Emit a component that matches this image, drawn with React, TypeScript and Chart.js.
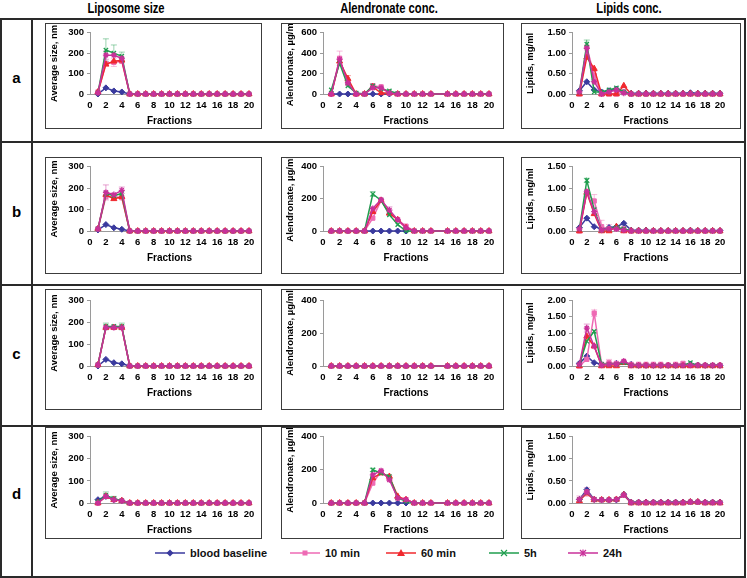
import React, { useEffect, useRef } from "react";
import { Chart, registerables } from "chart.js";

Chart.register(...registerables);

// ---------------- data ----------------
const fractions = [1, 2, 3, 4, 5, 6, 7, 8, 9, 10, 11, 12, 13, 14, 15, 16, 17, 18, 19, 20];
const seriesNames = ["blood baseline", "10 min", "60 min", "5h", "24h"];
const seriesColors = ["#3A3A9E", "#EE6AB4", "#F0282E", "#1F9E4E", "#C9309A"];
const seriesMarkers = ["rectRot", "rect", "triangle", "crossRot", "star"];
const rowLabels = ["a", "b", "c", "d"];
const columnTitles = ["Liposome size", "Alendronate conc.", "Lipids conc."];
const yTitles = ["Average size, nm", "Alendronate, µg/ml", "Lipids, mg/ml"];
const xTitle = "Fractions";
const xRange = [0, 20, 2];
const sizeRange = [0, 300, 100];
const alenRangeA = [0, 600, 200];
const alenRange = [0, 400, 200];
const lipRange = [0, 1.5, 0.5];
const lipRangeC = [0, 2.0, 0.5];

// series order: blood baseline, 10 min, 60 min, 5h, 24h   (null = no point)
const sizeA = [
  [0, 30, 15, 10, 0, 0, 0, 0, 0, 0, 0, 0, 0, 0, 0, 0, 0, 0, 0, 0],
  [10, 150, 155, 160, 0, 0, 0, 0, 0, 0, 0, 0, 0, 0, 0, 0, 0, 0, 0, 0],
  [10, 145, 160, 165, 0, 0, 0, 0, 0, 0, 0, 0, 0, 0, 0, 0, 0, 0, 0, 0],
  [5, 215, 200, 185, 0, 0, 0, 0, 0, 0, 0, 0, 0, 0, 0, 0, 0, 0, 0, 0],
  [5, 190, 190, 175, 0, 0, 0, 0, 0, 0, 0, 0, 0, 0, 0, 0, 0, 0, 0, 0],
];
const alenA = [
  [0, 0, 0, 0, 0, 0, 0, 0, null, null, null, null, null, null, null, null, null, null, null, null],
  [0, 350, 100, 0, 0, 80, 70, 10, 0, 0, 0, 0, 0, null, 0, 0, 0, 0, 0, 0],
  [0, 320, 150, 0, 0, 70, 10, 10, 0, 0, 0, 0, 0, null, 0, 0, 0, 0, 0, 0],
  [40, 300, 80, 10, 0, 80, 50, 30, 5, 0, 0, 0, 0, null, 0, 0, 0, 0, 0, 0],
  [0, 340, 110, 0, 0, 60, 60, 10, 0, 0, 0, 0, 0, null, 0, 0, 0, 0, 0, 0],
];
const lipA = [
  [0.08, 0.30, 0.10, 0.05, 0.08, 0.12, 0.05, 0.02, 0.02, 0.02, 0.02, 0.02, 0.02, 0.02, 0.02, 0.03, 0.02, 0.02, 0.02, 0.02],
  [0, 1.15, 0.45, 0, 0, 0, 0.05, 0, 0, 0, 0, 0, 0, 0, 0, 0, 0, 0, 0, 0],
  [0, 0.90, 0.62, 0, 0, 0, 0.20, 0, 0, 0, 0, 0, 0, 0, 0, 0, 0, 0, 0, 0],
  [0.05, 1.22, 0.05, 0.05, 0.10, 0.15, 0.05, 0, 0, 0, 0, 0, 0, 0, 0, 0, 0, 0, 0, 0],
  [0.05, 1.12, 0.30, 0, 0.05, 0.10, 0.02, 0, 0, 0, 0, 0, 0, 0, 0, 0, 0, 0, 0, 0],
];
const sizeB = [
  [5, 30, 15, 8, 0, 0, 0, 0, 0, 0, 0, 0, 0, 0, 0, 0, 0, 0, 0, 0],
  [10, 160, 160, 155, 0, 0, 0, 0, 0, 0, 0, 0, 0, 0, 0, 0, 0, 0, 0, 0],
  [10, 170, 150, 160, 0, 0, 0, 0, 0, 0, 0, 0, 0, 0, 0, 0, 0, 0, 0, 0],
  [10, 175, 165, 175, 0, 0, 0, 0, 0, 0, 0, 0, 0, 0, 0, 0, 0, 0, 0, 0],
  [10, 180, 170, 190, 0, 0, 0, 0, 0, 0, 0, 0, 0, 0, 0, 0, 0, 0, 0, 0],
];
const alenB = [
  [0, 0, 0, 0, 0, 0, 0, 0, 0, 0, null, null, null, null, null, null, null, null, null, null],
  [0, 0, 0, 0, 0, 80, 190, 110, 70, 30, 0, 0, 0, null, 0, 0, 0, 0, 0, 0],
  [0, 0, 0, 0, 0, 120, 190, 110, 70, 20, 0, 0, 0, null, 0, 0, 0, 0, 0, 0],
  [0, 0, 0, 0, 0, 230, 190, 100, 40, 0, 0, 0, 0, null, 0, 0, 0, 0, 0, 0],
  [0, 0, 0, 0, 0, 140, 195, 130, 70, 20, 0, 0, 0, null, 0, 0, 0, 0, 0, 0],
];
const lipB = [
  [0.08, 0.30, 0.10, 0.05, 0.08, 0.10, 0.18, 0.02, 0.02, 0.02, 0.01, 0.01, 0.01, 0.01, 0.01, 0.02, 0.01, 0.01, 0.01, 0.01],
  [0, 0.90, 0.70, 0.10, 0.05, 0.05, 0.05, 0, 0, 0, 0, 0, 0, 0, 0, 0, 0, 0, 0, 0],
  [0, 0.90, 0.40, 0, 0, 0.10, 0, 0, 0, 0, 0, 0, 0, 0, 0, 0, 0, 0, 0, 0],
  [0.05, 1.18, 0.50, 0.02, 0.05, 0.08, 0.05, 0, 0, 0, 0, 0, 0, 0, 0, 0, 0, 0, 0, 0],
  [0.05, 0.92, 0.45, 0.02, 0.05, 0.05, 0.02, 0, 0, 0, 0, 0, 0, 0, 0, 0, 0, 0, 0, 0],
];
const sizeC = [
  [0, 30, 15, 10, 0, 0, 0, 0, 0, 0, 0, 0, 0, 0, 0, 0, 0, 0, 0, 0],
  [5, 175, 175, 175, 0, 0, 0, 0, 0, 0, 0, 0, 0, 0, 0, 0, 0, 0, 0, 0],
  [5, 175, 175, 175, 0, 0, 0, 0, 0, 0, 0, 0, 0, 0, 0, 0, 0, 0, 0, 0],
  [5, 180, 180, 180, 0, 0, 0, 0, 0, 0, 0, 0, 0, 0, 0, 0, 0, 0, 0, 0],
  [5, 175, 175, 175, 0, 0, 0, 0, 0, 0, 0, 0, 0, 0, 0, 0, 0, 0, 0, 0],
];
const alenC = [
  [0, 0, 0, 0, 0, 0, 0, 0, 0, 0, 0, 0, 0, null, 0, 0, 0, 0, 0, 0],
  [0, 0, 0, 0, 0, 0, 0, 0, 0, 0, 0, 0, 0, null, 0, 0, 0, 0, 0, 0],
  [0, 0, 0, 0, 0, 0, 0, 0, 0, 0, 0, 0, 0, null, 0, 0, 0, 0, 0, 0],
  [0, 0, 0, 0, 0, 0, 0, 0, 0, 0, 0, 0, 0, null, 0, 0, 0, 0, 0, 0],
  [0, 0, 0, 0, 0, 0, 0, 0, 0, 0, 0, 0, 0, null, 0, 0, 0, 0, 0, 0],
];
const lipC = [
  [0.08, 0.30, 0.10, 0.05, 0.05, 0.08, 0.12, 0.05, 0.02, 0.02, 0.02, 0.02, 0.02, 0.02, 0.03, 0.05, 0.03, 0.02, 0.02, 0.02],
  [0, 0.20, 1.60, 0.05, 0.10, 0.08, 0.12, 0.05, 0.05, 0.05, 0.05, 0.05, 0.03, 0.05, 0.08, 0.02, 0.02, 0.02, 0.02, 0.02],
  [0, 0.90, 0.60, 0, 0, 0, 0.10, 0, 0, 0, 0, 0, 0, 0, 0, 0, 0, 0, 0, 0],
  [0.05, 0.75, 1.05, 0.05, 0.05, 0.05, 0.10, 0.02, 0.02, 0.02, 0.02, 0.02, 0.02, 0.02, 0.02, 0.10, 0.02, 0.02, 0.02, 0.02],
  [0.05, 1.15, 0.60, 0.02, 0.05, 0.05, 0.15, 0.02, 0.02, 0.02, 0.02, 0.02, 0.02, 0.02, 0.02, 0.02, 0.02, 0.02, 0.02, 0.02],
];
const sizeD = [
  [15, 30, 15, 10, 0, 0, 0, 0, 0, 0, 0, 0, 0, 0, 0, 0, 0, 0, 0, 0],
  [0, 30, 15, 10, 0, 0, 0, 0, 0, 0, 0, 0, 0, 0, 0, 0, 0, 0, 0, 0],
  [0, 30, 15, 10, 0, 0, 0, 0, 0, 0, 0, 0, 0, 0, 0, 0, 0, 0, 0, 0],
  [5, 35, 20, 10, 0, 0, 0, 0, 0, 0, 0, 0, 0, 0, 0, 0, 0, 0, 0, 0],
  [0, 30, 15, 10, 0, 0, 0, 0, 0, 0, 0, 0, 0, 0, 0, 0, 0, 0, 0, 0],
];
const alenD = [
  [0, 0, 0, 0, 0, 0, 0, 0, 0, 0, null, null, null, null, null, null, null, null, null, null],
  [0, 0, 0, 0, 0, 120, 190, 150, 30, 20, 0, 0, 0, null, 0, 0, 0, 0, 0, 0],
  [0, 0, 0, 0, 0, 150, 180, 160, 40, 20, 0, 0, 0, null, 0, 0, 0, 0, 0, 0],
  [0, 0, 0, 0, 0, 200, 180, 160, 30, 10, 0, 0, 0, null, 0, 0, 0, 0, 0, 0],
  [0, 0, 0, 0, 0, 170, 195, 140, 30, 20, 0, 0, 0, null, 0, 0, 0, 0, 0, 0],
];
const lipD = [
  [0.08, 0.30, 0.08, 0.07, 0.07, 0.07, 0.20, 0.02, 0.02, 0.02, 0.02, 0.02, 0.02, 0.02, 0.02, 0.03, 0.03, 0.02, 0.02, 0.02],
  [0.08, 0.25, 0.08, 0.07, 0.07, 0.08, 0.18, 0.01, 0.01, 0.01, 0.01, 0.01, 0.01, 0.01, 0.01, 0.02, 0.02, 0.01, 0.01, 0.01],
  [0.05, 0.22, 0.07, 0.07, 0.07, 0.08, 0.18, 0, 0, 0, 0, 0, 0, 0, 0, 0.02, 0.02, 0, 0, 0],
  [0.08, 0.25, 0.08, 0.07, 0.07, 0.08, 0.18, 0.01, 0.01, 0.01, 0.01, 0.01, 0.01, 0.01, 0.01, 0.02, 0.02, 0.01, 0.01, 0.01],
  [0.08, 0.25, 0.08, 0.07, 0.07, 0.08, 0.18, 0.01, 0.01, 0.01, 0.01, 0.01, 0.01, 0.01, 0.01, 0.02, 0.02, 0.01, 0.01, 0.01],
];

// error bars: [series index, fraction, +/- error]
const sizeAErr = [[3, 2, 55], [3, 3, 40], [3, 4, 20], [4, 2, 20], [1, 3, 20]];
const alenAErr = [[1, 2, 70], [2, 3, 30], [1, 6, 20]];
const lipAErr = [[3, 2, 0.1], [1, 1, 0.1], [1, 3, 0.1], [1, 5, 0.05]];
const sizeBErr = [[4, 2, 35], [4, 4, 15], [1, 3, 15]];
const alenBErr = [[3, 6, 15], [4, 8, 20]];
const lipBErr = [[1, 3, 0.15], [1, 4, 0.15], [1, 5, 0.1], [3, 2, 0.05]];
const sizeCErr = [[3, 2, 15], [3, 4, 15]];
const alenCErr: number[][] = [];
const lipCErr = [[4, 2, 0.12], [1, 5, 0.1], [1, 3, 0.1]];
const sizeDErr = [[3, 2, 15], [3, 3, 10]];
const alenDErr = [[3, 6, 10], [1, 8, 15]];
const lipDErr = [[1, 2, 0.1], [1, 1, 0.08]];

// ---------------- layout (pixels) ----------------
const FONT = "'Liberation Sans', Arial, Helvetica, sans-serif";
const colGeo = [
  { boxL: 45, boxR: 262, plotL: 90, plotR: 249 },
  { boxL: 281, boxR: 504, plotL: 323, plotR: 489 },
  { boxL: 521, boxR: 741, plotL: 572, plotR: 720 },
];
const rowGeo = [
  { boxT: 23, boxB: 129, plotT: 31, zero: 94 },
  { boxT: 157, boxB: 274, plotT: 166, zero: 231 },
  { boxT: 289, boxB: 410, plotT: 300, zero: 366 },
  { boxT: 427, boxB: 539, plotT: 436, zero: 503 },
];

type PanelDef = { data: (number | null)[][]; range: number[]; err: number[][]; col: number; row: number };
const panels: PanelDef[] = [
  { data: sizeA, range: sizeRange, err: sizeAErr, col: 0, row: 0 },
  { data: alenA, range: alenRangeA, err: alenAErr, col: 1, row: 0 },
  { data: lipA, range: lipRange, err: lipAErr, col: 2, row: 0 },
  { data: sizeB, range: sizeRange, err: sizeBErr, col: 0, row: 1 },
  { data: alenB, range: alenRange, err: alenBErr, col: 1, row: 1 },
  { data: lipB, range: lipRange, err: lipBErr, col: 2, row: 1 },
  { data: sizeC, range: sizeRange, err: sizeCErr, col: 0, row: 2 },
  { data: alenC, range: alenRange, err: alenCErr, col: 1, row: 2 },
  { data: lipC, range: lipRangeC, err: lipCErr, col: 2, row: 2 },
  { data: sizeD, range: sizeRange, err: sizeDErr, col: 0, row: 3 },
  { data: alenD, range: alenRange, err: alenDErr, col: 1, row: 3 },
  { data: lipD, range: lipRange, err: lipDErr, col: 2, row: 3 },
];

function hexA(hex: string, a: number) {
  const n = parseInt(hex.slice(1), 16);
  return `rgba(${(n >> 16) & 255},${(n >> 8) & 255},${n & 255},${a})`;
}

function Panel({ def }: { def: PanelDef }) {
  const ref = useRef<HTMLCanvasElement>(null);
  const cg = colGeo[def.col];
  const rg = rowGeo[def.row];
  const W = cg.boxR - cg.boxL;
  const H = rg.boxB - rg.boxT;
  const cw = W - 2;
  const ch = H - 2;

  useEffect(() => {
    if (!ref.current) return;
    const yW = cg.plotL - cg.boxL - 1;
    const padTop = rg.plotT - rg.boxT - 1;
    const padRight = cg.boxR - 1 - cg.plotR;
    const xH = rg.boxB - 1 - rg.zero;
    const titleBottom = Math.max(0, xH - 6 - 27);
    const decimals = def.col === 2;
    const errs = def.err;

    const errorPlugin = {
      id: "errorBars",
      beforeDatasetsDraw(chart: any) {
        const ctx = chart.ctx;
        const xs = chart.scales.x;
        const ys = chart.scales.y;
        ctx.save();
        ctx.lineWidth = 1;
        errs.forEach(([s, f, e]) => {
          const v = def.data[s][f - 1];
          if (v === null || v === undefined) return;
          const px = xs.getPixelForValue(f);
          const y1 = ys.getPixelForValue(v + e);
          const y2 = ys.getPixelForValue(Math.max(0, v - e));
          ctx.strokeStyle = hexA(seriesColors[s], 0.45);
          ctx.beginPath();
          ctx.moveTo(px, y1);
          ctx.lineTo(px, y2);
          ctx.moveTo(px - 3, y1);
          ctx.lineTo(px + 3, y1);
          ctx.moveTo(px - 3, y2);
          ctx.lineTo(px + 3, y2);
          ctx.stroke();
        });
        ctx.restore();
      },
    };

    const chart = new Chart(ref.current, {
      type: "line",
      data: {
        labels: fractions,
        datasets: seriesNames.map((name, i) => ({
          label: name,
          data: fractions.map((f, k) => ({ x: f, y: def.data[i][k] })),
          borderColor: seriesColors[i],
          backgroundColor: seriesColors[i],
          pointBackgroundColor: seriesColors[i],
          pointBorderColor: seriesColors[i],
          pointStyle: seriesMarkers[i] as any,
          pointRadius: seriesMarkers[i] === "triangle" ? 3.5 : 3,
          pointBorderWidth: seriesMarkers[i] === "crossRot" || seriesMarkers[i] === "star" ? 1.3 : 1,
          borderWidth: 1.5,
          tension: 0,
          spanGaps: true,
          clip: false as any,
          order: seriesNames.length - i,
        })),
      },
      options: {
        responsive: false,
        animation: false,
        events: [],
        parsing: false as any,
        layout: { padding: { left: 0, top: padTop, right: padRight, bottom: 0 } },
        plugins: { legend: { display: false }, tooltip: { enabled: false } },
        scales: {
          x: {
            type: "linear",
            min: xRange[0],
            max: xRange[1],
            ticks: {
              stepSize: xRange[2],
              color: "#000",
              font: { family: FONT, size: 9.5, weight: "bold" },
              padding: 6,
              maxRotation: 0,
              autoSkip: false,
            },
            grid: { display: false, drawTicks: false },
            border: { display: true, color: "#9a9a9a" },
            title: {
              display: true,
              text: xTitle,
              color: "#000",
              font: { family: FONT, size: 10, weight: "bold" },
              padding: { top: 0, bottom: titleBottom },
            },
            afterFit: (s: any) => {
              s.height = xH;
            },
          },
          y: {
            type: "linear",
            min: def.range[0],
            max: def.range[1],
            ticks: {
              stepSize: def.range[2],
              color: "#000",
              font: { family: FONT, size: 9.5, weight: "bold" },
              padding: 3,
              callback: (v: any) => (decimals ? Number(v).toFixed(2) : String(v)),
            },
            grid: { drawOnChartArea: false, drawTicks: true, tickLength: 3, color: "#9a9a9a" },
            border: { display: true, color: "#9a9a9a" },
            title: {
              display: true,
              text: yTitles[def.col],
              color: "#000",
              font: { family: FONT, size: 9.5, weight: "bold" },
              padding: { top: 3, bottom: 0 },
            },
            afterFit: (s: any) => {
              s.width = yW;
            },
          },
        },
      },
      plugins: [errorPlugin],
    } as any);
    return () => chart.destroy();
  }, []);

  return (
    <div
      style={{
        position: "absolute",
        left: cg.boxL,
        top: rg.boxT,
        width: W,
        height: H,
        border: "1px solid #3c3c3c",
        boxSizing: "border-box",
        background: "#fff",
      }}
    >
      <canvas ref={ref} width={cw} height={ch} style={{ display: "block", width: cw, height: ch }} />
    </div>
  );
}

function Marker({ kind, color }: { kind: string; color: string }) {
  const c = 15;
  const m = 5;
  let shape: any = null;
  if (kind === "rectRot") shape = <polygon points={`${c},${m - 3.5} ${c + 3.5},${m} ${c},${m + 3.5} ${c - 3.5},${m}`} fill={color} />;
  else if (kind === "rect") shape = <rect x={c - 2.5} y={m - 2.5} width={5} height={5} fill={color} />;
  else if (kind === "triangle") shape = <polygon points={`${c},${m - 4} ${c + 4},${m + 3} ${c - 4},${m + 3}`} fill={color} />;
  else if (kind === "crossRot")
    shape = <path d={`M${c - 3},${m - 3}L${c + 3},${m + 3}M${c + 3},${m - 3}L${c - 3},${m + 3}`} stroke={color} strokeWidth={1.2} />;
  else
    shape = (
      <path
        d={`M${c - 3},${m - 3}L${c + 3},${m + 3}M${c + 3},${m - 3}L${c - 3},${m + 3}M${c},${m - 3.5}L${c},${m + 3.5}`}
        stroke={color}
        strokeWidth={1.2}
      />
    );
  return (
    <svg width={30} height={10} style={{ display: "block" }}>
      <line x1={0} y1={m} x2={30} y2={m} stroke={color} strokeWidth={1.5} />
      {shape}
    </svg>
  );
}

const legendX = [155, 290, 386, 489, 568];

export default function App() {
  const lineColor = "#2a2a2a";
  const hLines = [18, 141, 284, 425, 576];
  const rowCenters = [78, 212, 354, 494];
  const headerCenters = [126, 389, 629];
  return (
    <div
      style={{
        position: "absolute",
        left: 0,
        top: 0,
        width: 747,
        height: 578,
        background: "#fff",
        fontFamily: FONT,
        overflow: "hidden",
      }}
    >
      {columnTitles.map((t, i) => (
        <div
          key={t}
          style={{
            position: "absolute",
            left: headerCenters[i] - 100,
            width: 200,
            top: 0,
            textAlign: "center",
            fontWeight: "bold",
            fontSize: 14,
            lineHeight: "16px",
            transform: "scaleX(0.8)",
          }}
        >
          {t}
        </div>
      ))}
      {hLines.map((y, i) => (
        <div key={"h" + i} style={{ position: "absolute", left: 0, top: y, width: 746, height: 2, background: lineColor }} />
      ))}
      <div style={{ position: "absolute", left: 0, top: 18, width: 2, height: 560, background: lineColor }} />
      <div style={{ position: "absolute", left: 31, top: 18, width: 2, height: 560, background: lineColor }} />
      <div style={{ position: "absolute", left: 744, top: 18, width: 2, height: 560, background: lineColor }} />
      {rowLabels.map((r, i) => (
        <div
          key={r}
          style={{
            position: "absolute",
            left: 2,
            width: 29,
            top: rowCenters[i] - 10,
            height: 20,
            lineHeight: "20px",
            textAlign: "center",
            fontWeight: "bold",
            fontSize: 15,
          }}
        >
          {r}
        </div>
      ))}
      {panels.map((p, i) => (
        <Panel key={i} def={p} />
      ))}
      {seriesNames.map((n, i) => (
        <div
          key={n}
          style={{
            position: "absolute",
            left: legendX[i],
            top: 546,
            height: 14,
            display: "flex",
            alignItems: "center",
            gap: 5,
            fontSize: 11,
            fontWeight: "bold",
            color: "#111",
            whiteSpace: "nowrap",
          }}
        >
          <Marker kind={seriesMarkers[i]} color={seriesColors[i]} />
          <span>{n}</span>
        </div>
      ))}
    </div>
  );
}
